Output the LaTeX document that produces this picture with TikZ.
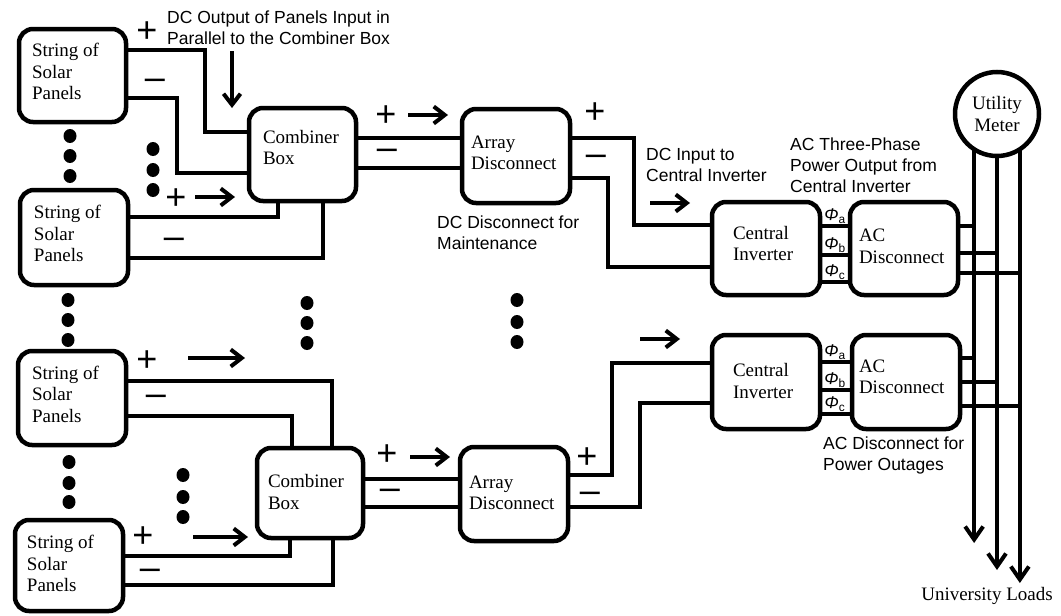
\documentclass[tikz,border=0pt]{standalone}
\usepackage{fontspec}
\setmainfont{Liberation Serif}
\newfontfamily\sansf{Liberation Sans}
\usetikzlibrary{arrows.meta}
\newcommand\bxtext[3]{\parbox{#1}{\raggedright #3\par\vspace*{#2}}}
\begin{document}
\begin{tikzpicture}[x=1pt,y=-1pt,
  box/.style={draw, line width=4.5pt, rounded corners=14pt, outer sep=0pt,
    inner ysep=0pt, font=\fontsize{19}{21.5}\selectfont},
  meter/.style={draw, circle, line width=4.5pt, outer sep=0pt, align=center, inner sep=0pt,
    minimum size=84pt, font=\fontsize{19}{21.5}\selectfont},
  wire/.style={line width=4pt},
  arr/.style={line width=4pt, -{Straight Barb[length=11pt,width=17pt]}},
  busarr/.style={line width=4pt, -{Straight Barb[length=13pt,width=18pt]}},
  pm/.style={font=\sansf\fontsize{36}{36}\selectfont, inner sep=0pt},
  note/.style={font=\sansf\fontsize{17.5}{21}\selectfont, align=left, anchor=west, inner sep=0pt},
  phi/.style={font=\sansf\fontsize{17}{17}\selectfont, inner sep=0pt, anchor=south},
  dotf/.style={fill=black}
]
\useasboundingbox (0,0) rectangle (1061,616);

% boxes
\node[box, minimum height=93pt, inner xsep=13pt] (P1) at (72.5,75.5) {\bxtext{81pt}{8pt}{String of\\Solar\\Panels}};
\node[box, minimum height=95pt, inner xsep=14pt] (P2) at (74,237.5) {\bxtext{80pt}{8pt}{String of\\Solar\\Panels}};
\node[box, minimum height=94pt, inner xsep=14pt] (P3) at (72,398) {\bxtext{80pt}{8pt}{String of\\Solar\\Panels}};
\node[box, minimum height=91pt, inner xsep=12pt] (P4) at (69,565.5) {\bxtext{84pt}{4pt}{String of\\Solar\\Panels}};
\node[box, minimum height=93pt, inner xsep=14pt] (CB1) at (302.5,154.5) {\bxtext{79pt}{14pt}{Combiner\\Box}};
\node[box, minimum height=90pt, inner xsep=11pt] (CB2) at (310,493) {\bxtext{84pt}{2pt}{Combiner\\Box}};
\node[box, minimum height=94pt, inner xsep=9pt] (AD1) at (516,156) {\bxtext{90pt}{6pt}{Array\\Disconnect}};
\node[box, minimum height=94pt, inner xsep=9pt] (AD2) at (514,494) {\bxtext{90pt}{2pt}{Array\\Disconnect}};
\node[box, minimum height=93pt, inner xsep=21pt] (CI1) at (766,248.5) {\bxtext{66pt}{10pt}{Central\\Inverter}};
\node[box, minimum height=93pt, inner xsep=9pt] (AC1) at (904,248.5) {\bxtext{90pt}{4pt}{AC\\Disconnect}};
\node[box, minimum height=94pt, inner xsep=21pt] (CI2) at (766,382) {\bxtext{66pt}{2pt}{Central\\Inverter}};
\node[box, minimum height=94pt, inner xsep=7pt] (AC2) at (906,382) {\bxtext{94pt}{10pt}{AC\\Disconnect}};
\node[meter] (M) at (997,114) {Utility\\Meter};

% bus lines to loads
\coordinate (B1) at (973,543);
\coordinate (B2) at (997,570);
\coordinate (B3) at (1021,583);
\draw[busarr] (M.-123) -- (M.-123 |- B1);
\draw[busarr] (M.-90) -- (M.-90 |- B2);
\draw[busarr] (M.-57) -- (M.-57 |- B3);
\node[font=\fontsize{19}{21.5}\selectfont, inner sep=0pt] (UL) at (987,596) {University Loads};

% top section wires
\draw[wire] (P1.east |- 0,50) -| (205,132) -- (CB1.west |- 0,132);
\draw[wire] (P1.east |- 0,98) -| (177,173) -- (CB1.west |- 0,173);
\draw[wire] (P2.east |- 0,217) -| (CB1.south -| 278,0);
\draw[wire] (P2.east |- 0,258) -| (CB1.south -| 323,0);
\draw[wire] (CB1.east |- 0,138) -- (AD1.west |- 0,138);
\draw[wire] (CB1.east |- 0,168) -- (AD1.west |- 0,168);
\draw[wire] (AD1.east |- 0,138) -| (634,225) -- (CI1.west |- 0,225);
\draw[wire] (AD1.east |- 0,178) -| (608,267) -- (CI1.west |- 0,267);
\draw[wire] (CI1.east |- 0,226) -- (AC1.west |- 0,226);
\draw[wire] (CI1.east |- 0,255) -- (AC1.west |- 0,255);
\draw[wire] (CI1.east |- 0,282) -- (AC1.west |- 0,282);
\draw[wire] (AC1.east |- 0,226) -- (B1 |- 0,226);
\draw[wire] (AC1.east |- 0,253) -- (B2 |- 0,253);
\draw[wire] (AC1.east |- 0,273) -- (B3 |- 0,273);

% bottom section wires
\draw[wire] (P3.east |- 0,381) -| (CB2.north -| 332,0);
\draw[wire] (P3.east |- 0,416) -| (CB2.north -| 292,0);
\draw[wire] (P4.east |- 0,556) -| (CB2.south -| 290,0);
\draw[wire] (P4.east |- 0,585) -| (CB2.south -| 333,0);
\draw[wire] (CB2.east |- 0,479) -- (AD2.west |- 0,479);
\draw[wire] (CB2.east |- 0,507) -- (AD2.west |- 0,507);
\draw[wire] (AD2.east |- 0,475) -| (612,363) -- (CI2.west |- 0,363);
\draw[wire] (AD2.east |- 0,507) -| (640,403) -- (CI2.west |- 0,403);
\draw[wire] (CI2.east |- 0,362) -- (AC2.west |- 0,362);
\draw[wire] (CI2.east |- 0,390) -- (AC2.west |- 0,390);
\draw[wire] (CI2.east |- 0,414) -- (AC2.west |- 0,414);
\draw[wire] (AC2.east |- 0,358) -- (B1 |- 0,358);
\draw[wire] (AC2.east |- 0,382) -- (B2 |- 0,382);
\draw[wire] (AC2.east |- 0,406) -- (B3 |- 0,406);

% phase labels
\node[phi] (pa1) at (835,223.5) {{\itshape Φ}\textsubscript{a}};
\node[phi] (pb1) at (835,252.5) {{\itshape Φ}\textsubscript{b}};
\node[phi] (pc1) at (835,279.5) {{\itshape Φ}\textsubscript{c}};
\node[phi] (pa2) at (835,359.5) {{\itshape Φ}\textsubscript{a}};
\node[phi] (pb2) at (835,387.5) {{\itshape Φ}\textsubscript{b}};
\node[phi] (pc2) at (835,411.5) {{\itshape Φ}\textsubscript{c}};

% plus / minus signs
\node[pm] (s1) at (147,32) {+};
\node[pm] (s2) at (155,84) {–};
\node[pm] (s3) at (176,199) {+};
\node[pm] (s4) at (174,243) {–};
\node[pm] (s5) at (386,116) {+};
\node[pm] (s6) at (387,154) {–};
\node[pm] (s7) at (595,113) {+};
\node[pm] (s8) at (596,160) {–};
\node[pm] (s9) at (147,361) {+};
\node[pm] (s10) at (156,400) {–};
\node[pm] (s11) at (143,537) {+};
\node[pm] (s12) at (150,574) {–};
\node[pm] (s13) at (387,455) {+};
\node[pm] (s14) at (390,494) {–};
\node[pm] (s15) at (587,458) {+};
\node[pm] (s16) at (590,497) {–};

% annotations
\node[note] (n1) at (167,27.5) {DC Output of Panels Input in\\Parallel to the Combiner Box};
\node[note] (n2) at (646,164.5) {DC Input to\\Central Inverter};
\node[note] (n3) at (437,233) {DC Disconnect for\\Maintenance};
\node[note] (n4) at (790,165) {AC Three-Phase\\Power Output from\\Central Inverter};
\node[note] (n5) at (823,455) {AC Disconnect for\\Power Outages};

% flow arrows
\draw[arr] (232,51) -- (232,108);
\draw[arr] (195,197) -- (235,197);
\draw[arr] (408,115) -- (448,115);
\draw[arr] (650,203) -- (690,203);
\draw[arr] (188,358) -- (245,358);
\draw[arr] (193,537) -- (248,537);
\draw[arr] (410,457) -- (450,457);
\draw[arr] (640,339) -- (680,339);

% ellipsis dots
\foreach \x/\y in {70/136,70/156,70/176, 153/149,153/170,153/190,
  68/300,68/320,68/340, 69/462,69/483,69/502, 183/475,183/497,183/517,
  307/303,307/323,307/343, 517/300,517/322,517/342}
  \fill[dotf] (\x,\y) ellipse [x radius=6.5, y radius=7];
\end{tikzpicture}
\end{document}
